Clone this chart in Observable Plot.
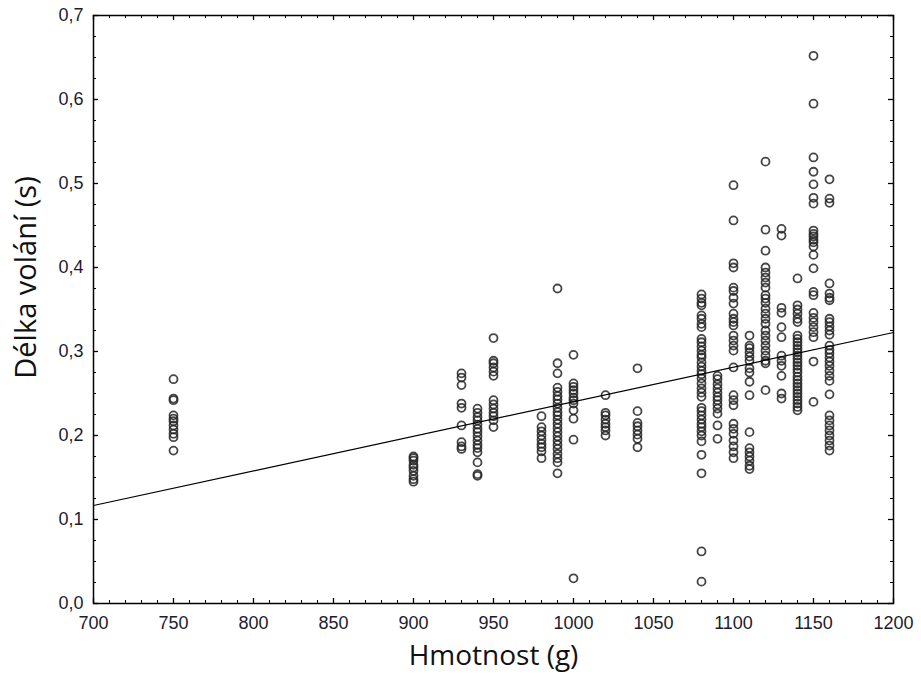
<!DOCTYPE html>
<html>
<head>
<meta charset="utf-8">
<script src="https://cdn.jsdelivr.net/npm/d3@7"></script>
<script src="https://cdn.jsdelivr.net/npm/@observablehq/plot@0.6"></script>
<style>
  html, body { margin: 0; padding: 0; background: #fff; }
  #chart { width: 921px; height: 678px; }
</style>
</head>
<body>
<div id="chart"></div>
<script>
// ---- Data ----
const weights = [750, 900, 930, 940, 950, 980, 990, 1000, 1020, 1040, 1080, 1090, 1100, 1110, 1120, 1130, 1140, 1150, 1160];

const len750  = [0.267, 0.244, 0.242, 0.224, 0.220, 0.217, 0.212, 0.207, 0.202, 0.198, 0.182];
const len900  = [0.175, 0.173, 0.170, 0.165, 0.162, 0.158, 0.152, 0.148, 0.145];
const len930  = [0.274, 0.269, 0.260, 0.238, 0.233, 0.212, 0.192, 0.187, 0.184];
const len940  = [0.232, 0.227, 0.222, 0.218, 0.213, 0.208, 0.204, 0.199, 0.194, 0.189, 0.185, 0.180, 0.168, 0.154, 0.152];
const len950  = [0.316, 0.289, 0.286, 0.281, 0.276, 0.271, 0.242, 0.237, 0.232, 0.227, 0.223, 0.218, 0.210];
const len980  = [0.223, 0.210, 0.205, 0.200, 0.195, 0.190, 0.186, 0.181, 0.173];
const len990  = [0.375, 0.286, 0.274, 0.257, 0.252, 0.247, 0.243, 0.238, 0.233, 0.228, 0.224, 0.219, 0.214, 0.209, 0.204, 0.199, 0.194, 0.189, 0.184, 0.178, 0.173, 0.168, 0.155];
const len1000 = [0.296, 0.262, 0.258, 0.254, 0.250, 0.245, 0.242, 0.238, 0.230, 0.220, 0.195, 0.030];
const len1020 = [0.248, 0.227, 0.224, 0.219, 0.214, 0.210, 0.206, 0.200];
const len1040 = [0.280, 0.229, 0.215, 0.211, 0.206, 0.201, 0.196, 0.186];
const len1080 = [0.368, 0.363, 0.358, 0.355, 0.343, 0.339, 0.333, 0.329, 0.315, 0.311, 0.306, 0.301, 0.296, 0.293, 0.287, 0.282, 0.277, 0.273, 0.268, 0.262, 0.256, 0.251, 0.246, 0.233, 0.229, 0.224, 0.219, 0.214, 0.210, 0.205, 0.200, 0.193, 0.177, 0.155, 0.062, 0.026];
const len1090 = [0.271, 0.267, 0.261, 0.256, 0.251, 0.246, 0.242, 0.237, 0.232, 0.226, 0.212, 0.196];
const len1100 = [0.498, 0.456, 0.405, 0.400, 0.376, 0.372, 0.364, 0.357, 0.345, 0.339, 0.335, 0.331, 0.319, 0.313, 0.307, 0.301, 0.281, 0.248, 0.242, 0.236, 0.214, 0.208, 0.202, 0.194, 0.187, 0.180, 0.173];
const len1110 = [0.319, 0.307, 0.304, 0.299, 0.294, 0.289, 0.280, 0.275, 0.264, 0.248, 0.204, 0.185, 0.180, 0.175, 0.170, 0.164, 0.160];
const len1120 = [0.526, 0.445, 0.420, 0.400, 0.394, 0.388, 0.382, 0.376, 0.367, 0.363, 0.358, 0.351, 0.345, 0.339, 0.333, 0.325, 0.319, 0.313, 0.307, 0.301, 0.295, 0.289, 0.286, 0.254];
const len1130 = [0.446, 0.438, 0.352, 0.346, 0.329, 0.317, 0.295, 0.289, 0.283, 0.271, 0.250, 0.244];
const len1140 = [0.387, 0.355, 0.350, 0.345, 0.339, 0.335, 0.319, 0.315, 0.311, 0.307, 0.303, 0.299, 0.295, 0.291, 0.287, 0.283, 0.279, 0.275, 0.270, 0.266, 0.262, 0.258, 0.254, 0.250, 0.246, 0.242, 0.238, 0.234, 0.230];
const len1150 = [0.652, 0.595, 0.531, 0.514, 0.499, 0.483, 0.476, 0.444, 0.440, 0.437, 0.433, 0.430, 0.425, 0.415, 0.399, 0.371, 0.367, 0.346, 0.340, 0.335, 0.329, 0.323, 0.317, 0.288, 0.240];
const len1160 = [0.505, 0.482, 0.477, 0.381, 0.369, 0.364, 0.361, 0.339, 0.335, 0.330, 0.325, 0.320, 0.307, 0.302, 0.298, 0.293, 0.288, 0.283, 0.277, 0.271, 0.265, 0.249, 0.224, 0.218, 0.212, 0.206, 0.200, 0.194, 0.188, 0.182];

const lengths = [len750, len900, len930, len940, len950, len980, len990, len1000, len1020, len1040, len1080, len1090, len1100, len1110, len1120, len1130, len1140, len1150, len1160];

// regression line endpoints
const fitX = [700, 1200];
const fitY = [0.1167, 0.3226];

// tick values
const xMajor = [700, 750, 800, 850, 900, 950, 1000, 1050, 1100, 1150, 1200];
const xMinor = d3.range(700, 1201, 10);
const yMajor = [0, 0.1, 0.2, 0.3, 0.4, 0.5, 0.6, 0.7];
const yMinor = d3.range(0, 29).map(i => i * 0.025);

const xTitle = "Hmotnost (g)";
const yTitle = "Délka volání (s)";

// ---- build tables ----
const points = [];
weights.forEach((w, i) => lengths[i].forEach(v => points.push({w, v})));
const fit = fitX.map((x, i) => ({x, y: fitY[i]}));

const W = 921, H = 678;
const mL = 93, mR = 28, mT = 15, mB = 75;
const fw = W - mL - mR, fh = H - mT - mB;
const majLen = 5, minLen = 3;

const fmtY = d => d3.format(".1f")(d).replace(".", ",");
const fmtX = d => String(d);

const plot = Plot.plot({
  width: W,
  height: H,
  marginLeft: mL,
  marginRight: mR,
  marginTop: mT,
  marginBottom: mB,
  style: {fontFamily: "'Liberation Sans', Arial, sans-serif", background: "#fff"},
  x: {domain: [700, 1200]},
  y: {domain: [0, 0.7]},
  marks: [
    // inward ticks on all four sides
    Plot.tickX(xMinor, {x: d => d, insetTop: fh - minLen, stroke: "#000", strokeWidth: 1}),
    Plot.tickX(xMinor, {x: d => d, insetBottom: fh - minLen, stroke: "#000", strokeWidth: 1}),
    Plot.tickX(xMajor, {x: d => d, insetTop: fh - majLen, stroke: "#000", strokeWidth: 1.3}),
    Plot.tickX(xMajor, {x: d => d, insetBottom: fh - majLen, stroke: "#000", strokeWidth: 1.3}),
    Plot.tickY(yMinor, {y: d => d, insetRight: fw - minLen, stroke: "#000", strokeWidth: 1}),
    Plot.tickY(yMinor, {y: d => d, insetLeft: fw - minLen, stroke: "#000", strokeWidth: 1}),
    Plot.tickY(yMajor, {y: d => d, insetRight: fw - majLen, stroke: "#000", strokeWidth: 1.3}),
    Plot.tickY(yMajor, {y: d => d, insetLeft: fw - majLen, stroke: "#000", strokeWidth: 1.3}),
    Plot.axisX(xMajor, {tickSize: 0, tickPadding: 13, fontSize: 18, fill: "#1c1c30", label: null, tickFormat: fmtX}),
    Plot.axisY(yMajor, {tickSize: 0, tickPadding: 10, fontSize: 18, fill: "#1c1c30", label: null, tickFormat: fmtY}),
    Plot.dot(points, {x: "w", y: "v", r: 4, stroke: "#262626", strokeOpacity: 0.85, strokeWidth: 1.8, fill: "none"}),
    Plot.line(fit, {x: "x", y: "y", stroke: "#000", strokeWidth: 1.2}),
    Plot.frame({stroke: "#000", strokeWidth: 1.5}),
    Plot.text([xTitle], {text: d => d, frameAnchor: "bottom", dy: 61, fontSize: 28, fill: "#111", fontFamily: "'Open Sans', sans-serif"}),
    Plot.text([yTitle], {text: d => d, frameAnchor: "left", dx: -67, dy: -32, rotate: -90, textAnchor: "middle", fontSize: 29, fill: "#111", fontFamily: "'Open Sans', sans-serif"})
  ]
});
document.getElementById("chart").appendChild(plot);
</script>
</body>
</html>
